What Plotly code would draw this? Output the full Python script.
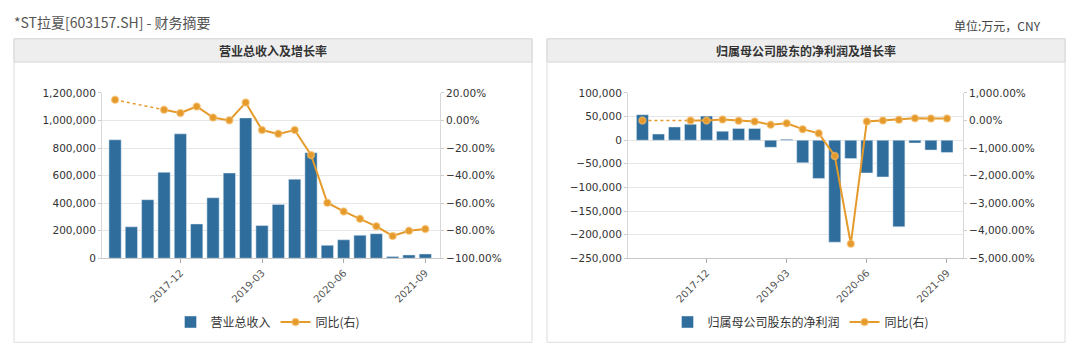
import plotly.graph_objects as go

# ---------------- data ----------------
quarters = ["2016-12", "2017-03", "2017-06", "2017-09", "2017-12",
            "2018-03", "2018-06", "2018-09", "2018-12", "2019-03",
            "2019-06", "2019-09", "2019-12", "2020-03", "2020-06",
            "2020-09", "2020-12", "2021-03", "2021-06", "2021-09"]
tick_labels = ["2017-12", "2019-03", "2020-06", "2021-09"]

revenue = [860000, 228000, 425000, 624000, 903000,
           249000, 439000, 619000, 1019000, 237000,
           391000, 574000, 766000, 94000, 134000,
           167000, 178000, 12000, 24000, 31000]
revenue_yoy = [15.0, None, None, 7.8, 5.5,
               10.2, 2.2, 0.1, 13.0, -6.9,
               -9.7, -6.9, -25.0, -59.7, -66.0,
               -71.4, -76.8, -83.8, -80.0, -78.8]

net_profit = [54000, 13000, 28000, 34000, 51000,
              19000, 25000, 25000, -15000, 2000,
              -48000, -81000, -216000, -39000, -69500,
              -78000, -183500, -6000, -21000, -26000]
net_profit_yoy = [0, None, None, 0, 0,
                  37, -10, -33, -150, -100,
                  -313, -467, -1286, -4475, -33,
                  0, 25, 84, 74, 74]

main_title = "*ST拉夏[603157.SH] - 财务摘要"
unit_text = "单位:万元，CNY"
left_title = "营业总收入及增长率"
right_title = "归属母公司股东的净利润及增长率"
left_bar_name = "营业总收入"
right_bar_name = "归属母公司股东的净利润"
line_name = "同比(右)"

# ---------------- style ----------------
W, H = 1080, 357
BAR = "#2f6e9c"
LINE = "#e59a2c"
FONT = "Noto Sans CJK SC, DejaVu Sans, sans-serif"
TICKFONT = dict(family="DejaVu Sans, sans-serif", size=10.5, color="#333333")


def px_x(v):
    return v / W


def px_y(v):
    return 1 - v / H


def gap_segments(xs, ys):
    """Return x/y lists (with None separators) joining the points around gaps."""
    gx, gy = [], []
    i = 0
    n = len(ys)
    while i < n:
        if ys[i] is None:
            j = i
            while j < n and ys[j] is None:
                j += 1
            if i > 0 and j < n:
                gx += [xs[i - 1], xs[j], None]
                gy += [ys[i - 1], ys[j], None]
            i = j
        else:
            i += 1
    return gx, gy


fig = go.Figure()

# ---------- left chart ----------
fig.add_trace(go.Bar(x=quarters, y=revenue, name=left_bar_name, marker_color=BAR,
                     xaxis="x", yaxis="y", legend="legend"))
gx, gy = gap_segments(quarters, revenue_yoy)
fig.add_trace(go.Scatter(x=gx, y=gy, mode="lines", line=dict(color=LINE, width=1.5, dash="dot"),
                         xaxis="x", yaxis="y2", showlegend=False, hoverinfo="skip"))
fig.add_trace(go.Scatter(x=quarters, y=revenue_yoy, name=line_name, mode="lines+markers",
                         line=dict(color=LINE, width=2),
                         marker=dict(size=7, color=LINE, line=dict(color="rgba(245,190,110,0.6)", width=1.5)),
                         xaxis="x", yaxis="y2", legend="legend", connectgaps=False))

# ---------- right chart ----------
fig.add_trace(go.Bar(x=quarters, y=net_profit, name=right_bar_name, marker_color=BAR,
                     xaxis="x2", yaxis="y3", legend="legend2"))
gx2, gy2 = gap_segments(quarters, net_profit_yoy)
fig.add_trace(go.Scatter(x=gx2, y=gy2, mode="lines", line=dict(color=LINE, width=1.5, dash="dot"),
                         xaxis="x2", yaxis="y4", showlegend=False, hoverinfo="skip"))
fig.add_trace(go.Scatter(x=quarters, y=net_profit_yoy, name=line_name, mode="lines+markers",
                         line=dict(color=LINE, width=2),
                         marker=dict(size=7, color=LINE, line=dict(color="rgba(245,190,110,0.6)", width=1.5)),
                         xaxis="x2", yaxis="y4", legend="legend2", connectgaps=False))

xcommon = dict(type="category", categoryorder="array", categoryarray=quarters,
               tickmode="array", tickvals=tick_labels, ticktext=tick_labels,
               tickangle=-45, tickfont=dict(family="DejaVu Sans, sans-serif", size=10, color="#555555"),
               showgrid=False, showline=True, linecolor="#c8c8c8", linewidth=1,
               ticks="outside", ticklen=4, tickcolor="#aaaaaa", zeroline=False, fixedrange=True)
ycommon = dict(tickfont=TICKFONT, showline=True, linecolor="#d8d8d8", ticks="outside",
               ticklen=3, tickcolor="#cccccc", zeroline=False, fixedrange=True)

LY0, LY1 = px_y(261), px_y(90)

fig.update_layout(
    width=W, height=H, autosize=False,
    margin=dict(l=0, r=0, t=0, b=0),
    paper_bgcolor="white", plot_bgcolor="white",
    font=dict(family=FONT, color="#333333"),
    barmode="group", bargap=0.25,
    xaxis=dict(xcommon, domain=[px_x(102), px_x(440)], anchor="y", range=[-0.8, 19.9]),
    yaxis=dict(ycommon, domain=[LY0, LY1], anchor="x", range=[0, 1200000], dtick=200000,
               tickformat=",d", showgrid=True, gridcolor="#e6e6e6"),
    yaxis2=dict(ycommon, overlaying="y", anchor="x", side="right", range=[-100, 20], dtick=20,
                tickformat=".2f", ticksuffix="%", showgrid=False),
    xaxis2=dict(xcommon, domain=[px_x(628), px_x(963)], anchor="y3", range=[-0.9, 20.0]),
    yaxis3=dict(ycommon, domain=[LY0, LY1], anchor="x2", range=[-250000, 100000], dtick=50000,
                tickformat=",d", showgrid=True, gridcolor="#e6e6e6"),
    yaxis4=dict(ycommon, overlaying="y3", anchor="x2", side="right", range=[-5000, 1000], dtick=1000,
                tickformat=",.2f", ticksuffix="%", showgrid=False),
    legend=dict(orientation="h", x=px_x(268), xanchor="center", y=px_y(327), yanchor="middle",
                font=dict(family=FONT, size=12, color="#333333"), bgcolor="rgba(0,0,0,0)",
                itemwidth=30),
    legend2=dict(orientation="h", x=px_x(801), xanchor="center", y=px_y(327), yanchor="middle",
                 font=dict(family=FONT, size=12, color="#333333"), bgcolor="rgba(0,0,0,0)",
                 itemwidth=30),
    showlegend=True,
)

shapes = []
annotations = []
for (x0, x1, title) in [(14, 532, left_title), (547, 1065, right_title)]:
    shapes.append(dict(type="rect", xref="paper", yref="paper", layer="below",
                       x0=px_x(x0), x1=px_x(x1), y0=px_y(348), y1=px_y(34),
                       line=dict(color="#dcdcdc", width=1), fillcolor="white"))
    shapes.append(dict(type="rect", xref="paper", yref="paper", layer="below",
                       x0=px_x(x0), x1=px_x(x1), y0=px_y(58), y1=px_y(34),
                       line=dict(color="#d6d6d6", width=1), fillcolor="#eeeeee"))
    annotations.append(dict(xref="paper", yref="paper", x=px_x((x0 + x1) / 2), y=px_y(46),
                            text="<b>" + title + "</b>", showarrow=False, xanchor="center",
                            yanchor="middle", font=dict(family=FONT, size=12, color="#333333")))

annotations.append(dict(xref="paper", yref="paper", x=px_x(12), y=px_y(17), text=main_title,
                        showarrow=False, xanchor="left", yanchor="middle",
                        font=dict(family=FONT, size=14, color="#555555")))
annotations.append(dict(xref="paper", yref="paper", x=px_x(1043), y=px_y(20), text=unit_text,
                        showarrow=False, xanchor="right", yanchor="middle",
                        font=dict(family=FONT, size=12, color="#444444")))

fig.update_layout(shapes=shapes, annotations=annotations)

fig.write_html("out.html", config={"displayModeBar": False},
               post_script="document.body.style.margin='0';document.body.style.overflow='hidden';")
